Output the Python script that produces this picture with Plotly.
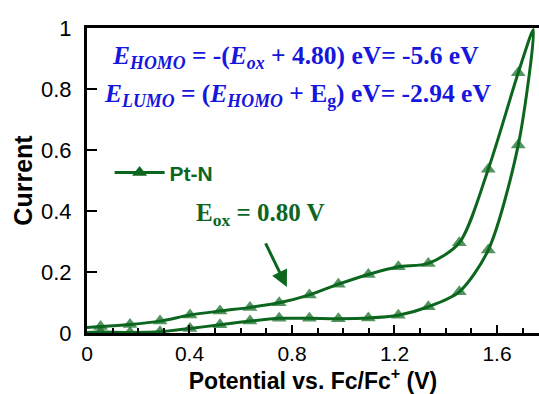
import plotly.graph_objects as go

# forward scan (lower branch), marker points
x_fwd = [0.053, 0.168, 0.285, 0.402, 0.519, 0.636, 0.750, 0.868, 0.981, 1.098, 1.215, 1.332, 1.453, 1.566, 1.683]
y_fwd = [0.003, 0.002, 0.004, 0.015, 0.027, 0.039, 0.048, 0.048, 0.047, 0.049, 0.058, 0.086, 0.135, 0.272, 0.616]
# reverse scan (upper branch), marker points
x_rev = [1.683, 1.566, 1.453, 1.332, 1.215, 1.098, 0.981, 0.868, 0.750, 0.636, 0.519, 0.402, 0.285, 0.168, 0.053]
y_rev = [0.853, 0.537, 0.296, 0.228, 0.217, 0.192, 0.160, 0.125, 0.099, 0.084, 0.072, 0.059, 0.039, 0.028, 0.021]
# curve end points (no markers)
x_start, y_start = 0.0, 0.002
x_peak, y_peak = 1.742, 0.995
x_end, y_end = 0.0, 0.018

x_ticks = [0, 0.4, 0.8, 1.2, 1.6]
x_ticklabels = ["0", "0.4", "0.8", "1.2", "1.6"]
y_ticks = [0, 0.2, 0.4, 0.6, 0.8, 1]
y_ticklabels = ["0", "0.2", "0.4", "0.6", "0.8", "1"]

GREEN = "#0c661e"
BLUE = "#1616dc"
SANS = "Liberation Sans, Arial, sans-serif"
SERIF = "Liberation Serif, Times New Roman, serif"

xs = [x_start] + x_fwd + [x_peak] + x_rev + [x_end]
ys = [y_start] + y_fwd + [y_peak] + y_rev + [y_end]
MS = 13
sizes = [0] + [MS] * len(x_fwd) + [0] + [MS] * len(x_rev) + [0]

fig = go.Figure()
fig.add_trace(go.Scatter(
    x=xs, y=ys, mode="lines+markers", name="Pt-N", showlegend=False,
    line=dict(color=GREEN, width=3, shape="spline", smoothing=0.8),
    marker=dict(symbol="triangle-up", size=sizes, color=GREEN, line=dict(width=0)),
    cliponaxis=False,
))
# legend entry (same style, constant marker size)
fig.add_trace(go.Scatter(
    x=[None], y=[None], mode="lines+markers", name="Pt-N", showlegend=True,
    line=dict(color=GREEN, width=3),
    marker=dict(symbol="triangle-up", size=MS, color=GREEN, line=dict(width=0)),
))

fig.update_layout(
    width=539, height=394,
    margin=dict(l=87, r=0, t=28, b=61),
    plot_bgcolor="white", paper_bgcolor="white",
    showlegend=True,
    legend=dict(x=0.05, y=0.525, xanchor="left", yanchor="middle",
                bgcolor="rgba(0,0,0,0)", itemwidth=50,
                font=dict(family=SANS, size=21, color=GREEN, weight="bold")),
    xaxis=dict(
        range=[0, 1.764], tickvals=x_ticks, ticktext=x_ticklabels,
        showline=True, linecolor="black", linewidth=3, mirror=True,
        ticks="inside", ticklen=8, tickwidth=2, tickcolor="black",
        minor=dict(dtick=0.1, ticks="inside", ticklen=5, tickwidth=2, tickcolor="black"),
        showgrid=False, zeroline=False,
        tickfont=dict(family=SANS, size=21, color="black"),
        title=dict(text="Potential vs. Fc/Fc<sup>+</sup> (V)", standoff=8,
                   font=dict(family=SANS, size=23, color="black", weight="bold")),
    ),
    yaxis=dict(
        range=[0, 1], tickvals=y_ticks, ticktext=y_ticklabels,
        showline=True, linecolor="black", linewidth=3, mirror=False,
        ticks="inside", ticklen=10, tickwidth=2, tickcolor="black",
        showgrid=False, zeroline=False, ticklabelstandoff=8,
        tickfont=dict(family=SANS, size=22, color="black"),
        title=dict(text="Current", standoff=2,
                   font=dict(family=SANS, size=25, color="black", weight="bold")),
    ),
)

fig.add_annotation(
    xref="paper", yref="paper", x=0.05, y=0.905, xanchor="left", yanchor="middle",
    showarrow=False,
    text="<b><i>E</i><sub><i>HOMO</i></sub> = -(<i>E</i><sub><i>ox</i></sub> + 4.80) eV= -5.6 eV</b>",
    font=dict(family=SERIF, size=25.5, color=BLUE),
)
fig.add_annotation(
    xref="paper", yref="paper", x=0.033, y=0.78, xanchor="left", yanchor="middle",
    showarrow=False,
    text="<b><i>E</i><sub><i>LUMO</i></sub> = (<i>E</i><sub><i>HOMO</i></sub> + E<sub>g</sub>) eV= -2.94 eV</b>",
    font=dict(family=SERIF, size=25.5, color=BLUE),
)
fig.add_annotation(
    xref="paper", yref="paper", x=0.237, y=0.39, xanchor="left", yanchor="middle",
    showarrow=False,
    text="<b>E<sub>ox</sub> = 0.80 V</b>",
    font=dict(family=SERIF, size=25, color=GREEN),
)
fig.add_annotation(
    x=0.78, y=0.151, xref="x", yref="y",
    ax=-22, ay=-45, showarrow=True,
    arrowhead=2, arrowsize=1.1, arrowwidth=3, arrowcolor=GREEN, text="",
)

fig.write_html("out.html")
